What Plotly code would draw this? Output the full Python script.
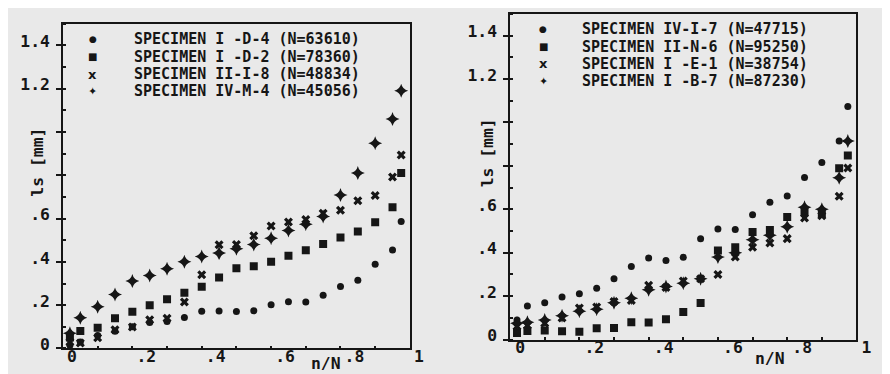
import plotly.graph_objects as go

# ---------------- data ----------------
nN = [0.02, 0.05, 0.10, 0.15, 0.20, 0.25, 0.30, 0.35, 0.40, 0.45, 0.50,
      0.55, 0.60, 0.65, 0.70, 0.75, 0.80, 0.85, 0.90, 0.95, 0.975]

# left panel
ls_I_D_4 = [0.015, 0.03, 0.06, 0.08, 0.10, 0.12, 0.125, 0.143, 0.172, 0.173, 0.171,
            0.174, 0.202, 0.216, 0.214, 0.246, 0.286, 0.315, 0.389, 0.455, 0.586]
ls_I_D_2 = [0.05, 0.081, 0.096, 0.14, 0.169, 0.199, 0.227, 0.257, 0.285, 0.328, 0.371,
            0.38, 0.40, 0.428, 0.454, 0.483, 0.512, 0.54, 0.583, 0.652, 0.81]
ls_II_I_8 = [0.03, 0.025, 0.049, 0.086, 0.099, 0.132, 0.139, 0.215, 0.34, 0.479, 0.48,
             0.521, 0.566, 0.584, 0.596, 0.624, 0.638, 0.682, 0.707, 0.792, 0.894]
ls_IV_M_4 = [0.07, 0.142, 0.193, 0.249, 0.311, 0.337, 0.368, 0.40, 0.425, 0.441, 0.46,
             0.48, 0.509, 0.545, 0.574, 0.61, 0.709, 0.81, 0.948, 1.06, 1.19]

# right panel
ls_IV_I_7 = [0.09, 0.155, 0.17, 0.196, 0.211, 0.236, 0.28, 0.337, 0.376, 0.364, 0.379,
             0.465, 0.509, 0.507, 0.575, 0.632, 0.661, 0.747, 0.816, 0.915, 1.073]
ls_II_N_6 = [0.03, 0.04, 0.042, 0.038, 0.036, 0.052, 0.053, 0.08, 0.079, 0.094, 0.127,
             0.169, 0.41, 0.425, 0.495, 0.505, 0.565, 0.588, 0.58, 0.789, 0.848]
ls_I_E_1 = [0.06, 0.065, 0.075, 0.10, 0.145, 0.15, 0.175, 0.18, 0.25, 0.24, 0.27,
            0.28, 0.30, 0.38, 0.425, 0.445, 0.465, 0.56, 0.57, 0.66, 0.79]
ls_I_B_7 = [0.075, 0.08, 0.09, 0.11, 0.13, 0.14, 0.17, 0.19, 0.23, 0.245, 0.26,
            0.28, 0.38, 0.40, 0.46, 0.48, 0.52, 0.61, 0.60, 0.745, 0.915]

left_names = ["SPECIMEN I -D-4 (N=63610)", "SPECIMEN I -D-2 (N=78360)",
              "SPECIMEN II-I-8 (N=48834)", "SPECIMEN IV-M-4 (N=45056)"]
right_names = ["SPECIMEN IV-I-7 (N=47715)", "SPECIMEN II-N-6 (N=95250)",
               "SPECIMEN I -E-1 (N=38754)", "SPECIMEN I -B-7 (N=87230)"]

x_tickvals = [0, 0.2, 0.4, 0.6, 0.8, 1.0]
x_ticktext = ["0\u00a0", ".2", ".4", ".6", ".8", "1\u00a0"]
y_tickvals = [0, 0.2, 0.4, 0.6, 0.8, 1.0, 1.2, 1.4]
y_ticktext = ["0", ".2", ".4", ".6", "", "", "1.2", "1.4"]
x_title = "n/N"
y_title = "ls [mm]"

# ---------------- style ----------------
W, H = 890, 374
INK = "#161616"
PAPER = "#e9e9e9"
FONT = "DejaVu Sans Mono"
FS = 16.4
LEG_FS = 15

symbols = ["circle", "square", "x", "star-diamond"]
sizes = [7, 8, 8, 10]
key_glyphs = ["●", "■", "x", "✦"]
key_sizes = [9, 10, 13, 11]


def px(xp):
    return xp / W


def py(yp):
    return 1 - yp / H


fig = go.Figure()

panels = [
    ("x", "y", [ls_I_D_4, ls_I_D_2, ls_II_I_8, ls_IV_M_4], left_names),
    ("x2", "y2", [ls_IV_I_7, ls_II_N_6, ls_I_E_1, ls_I_B_7], right_names),
]
for xa, ya, series, names in panels:
    for k, (vals, name) in enumerate(zip(series, names)):
        fig.add_trace(go.Scatter(
            x=nN, y=vals, mode="markers", name=name, xaxis=xa, yaxis=ya,
            showlegend=False,
            marker=dict(symbol=symbols[k], size=sizes[k], color=INK,
                        line=dict(width=0)),
        ))

tickfont = dict(family=FONT, size=FS, color=INK, weight="bold")


def xaxis(domain, anchor, shift):
    return dict(domain=domain, anchor=anchor, range=[0, 1],
                showline=True, mirror=True, linecolor=INK, linewidth=1.6,
                showgrid=False, zeroline=False,
                tickmode="array", tickvals=x_tickvals, ticktext=x_ticktext,
                ticks="inside", ticklen=3, tickwidth=1.6, tickcolor=INK,
                minor=dict(ticks="inside", ticklen=3, tickwidth=1.6,
                           tickcolor=INK, dtick=0.1, showgrid=False),
                tickfont=tickfont, ticklabelshift=shift, ticklabelstandoff=-8)


def yaxis(domain, anchor):
    return dict(domain=domain, anchor=anchor, range=[0, 1.5],
                showline=True, mirror=True, linecolor=INK, linewidth=1.6,
                showgrid=False, zeroline=False,
                tickmode="array", tickvals=y_tickvals, ticktext=y_ticktext,
                ticks="outside", ticklen=5, tickwidth=1.6, tickcolor=INK,
                minor=dict(ticks="inside", ticklen=3, tickwidth=1.6,
                           tickcolor=INK, dtick=0.1, showgrid=False),
                tickfont=tickfont, ticklabelshift=-4, ticklabelstandoff=3)


# pixel frames of the two panels: (left, right, top, bottom)
L_frame = (56.5, 413, 16, 346)
R_frame = (516, 872, 6, 337)

fig.update_layout(
    width=W, height=H, autosize=False,
    margin=dict(l=0, r=0, t=0, b=0),
    paper_bgcolor=PAPER, plot_bgcolor=PAPER,
    xaxis=xaxis([px(L_frame[0]), px(L_frame[1])], "y", 14),
    yaxis=yaxis([py(L_frame[3]), py(L_frame[2])], "x"),
    xaxis2=xaxis([px(R_frame[0]), px(R_frame[1])], "y2", 15),
    yaxis2=yaxis([py(R_frame[3]), py(R_frame[2])], "x2"),
)

annfont = dict(family=FONT, size=FS, color=INK, weight="bold")
legfont = dict(family=FONT, size=LEG_FS, color=INK, weight="bold")
ann = []
# legend blocks: (symbol x, text x, first row y, row step)
for names, (sx, tx, y0, dy) in [(left_names, (87, 127, 32, 17.6)),
                                (right_names, (550, 588, 21.7, 17.6))]:
    for k, name in enumerate(names):
        yy = py(y0 + k * dy)
        ann.append(dict(x=px(sx), y=yy, xref="paper", yref="paper",
                        text=key_glyphs[k], showarrow=False,
                        xanchor="center", yanchor="middle", borderpad=0,
                        font=dict(family="DejaVu Sans", size=key_sizes[k],
                                  color=INK, weight="bold")))
        ann.append(dict(x=px(tx), y=yy, xref="paper", yref="paper",
                        text=name, showarrow=False,
                        xanchor="left", yanchor="middle", font=legfont))

# axis titles
for (tx, ty), (yx, yy) in [((327, 361), (30, 157)), ((783, 356), (493, 147))]:
    ann.append(dict(x=px(tx), y=py(ty), xref="paper", yref="paper",
                    text=x_title, showarrow=False, xanchor="center",
                    yanchor="middle", font=annfont))
    ann.append(dict(x=px(yx), y=py(yy), xref="paper", yref="paper",
                    text=y_title, showarrow=False, textangle=-90,
                    xanchor="center", yanchor="middle", font=annfont))

fig.update_layout(annotations=ann)

fig.write_html("out.html")
